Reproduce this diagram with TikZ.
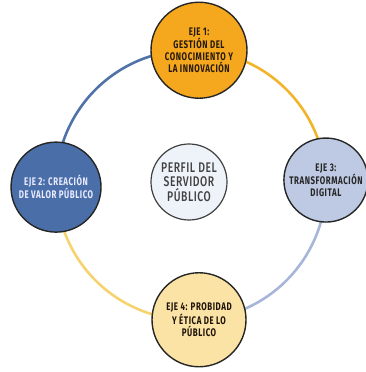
\documentclass[tikz,border=0pt]{standalone}
\usepackage{fontspec}
\usetikzlibrary{calc}
\newfontfamily\axfont{Fira Sans}[FakeStretch=0.72,LetterSpace=5,UprightFont=* Bold,BoldFont=* Bold]
\newfontfamily\cenfont{Fira Sans}[FakeStretch=0.74,LetterSpace=4,UprightFont=* Medium]
\definecolor{ringA}{HTML}{4F72A8}
\definecolor{ringB}{HTML}{F2B42A}
\definecolor{ringC}{HTML}{A7B6D8}
\definecolor{ringD}{HTML}{F6D36E}
\definecolor{fillTop}{HTML}{F5A81E}
\definecolor{fillLeft}{HTML}{4A6FA8}
\definecolor{fillRight}{HTML}{BECAE3}
\definecolor{fillBot}{HTML}{FBE3A5}
\definecolor{fillCen}{HTML}{EEF3FA}
\definecolor{edge}{HTML}{262626}
\begin{document}
\begin{tikzpicture}[x=1pt,y=1pt,
  axis/.style={circle,draw=edge,line width=1.4pt,inner sep=0pt,align=center,
    font=\axfont\fontsize{11}{12}\selectfont},
  ring/.style={line width=2.6pt}]
\useasboundingbox (0,0) rectangle (365,372);
\coordinate (c) at (191,187);
\def\R{135}
\coordinate (pTop) at ($(c)+(86.6:\R)$);
\coordinate (pLeft) at ($(c)+(180.9:\R)$);
\coordinate (pRight) at ($(c)+(2.1:\R)$);
\coordinate (pBot) at ($(c)+(-86.6:\R)$);
% ring arcs
\draw[ring,ringA] (pLeft) arc[start angle=180.9,end angle=86.6,radius=\R];
\draw[ring,ringB] (pTop) arc[start angle=86.6,end angle=2.1,radius=\R];
\draw[ring,ringC] (pRight) arc[start angle=2.1,end angle=-86.6,radius=\R];
\draw[ring,ringD] (pBot) arc[start angle=-86.6,end angle=-179.1,radius=\R];
% nodes
\node[axis,fill=fillTop,minimum size=96pt,text=black!80!brown] (top) at (pTop)
  {EJE 1:\\GESTIÓN DEL\\CONOCIMIENTO Y\\LA INNOVACIÓN};
\node[axis,fill=fillLeft,minimum size=90pt,text=white!92!blue] (left) at (pLeft)
  {EJE 2: CREACIÓN\\DE VALOR PÚBLICO};
\node[axis,fill=fillRight,minimum size=84pt,text=black!85] (right) at (pRight)
  {EJE 3:\\TRANSFORMACIÓN\\DIGITAL};
\node[axis,fill=fillBot,minimum size=94pt,text=black!85!brown] (bot) at (pBot)
  {EJE 4: PROBIDAD\\Y ÉTICA DE LO\\PÚBLICO};
\node[axis,fill=fillCen,minimum size=76pt,line width=1.2pt,draw=black!75,text=black!75,
  font=\cenfont\fontsize{14}{14.5}\selectfont] (cen) at (189,190)
  {PERFIL DEL\\SERVIDOR\\PÚBLICO};
\end{tikzpicture}
\end{document}
